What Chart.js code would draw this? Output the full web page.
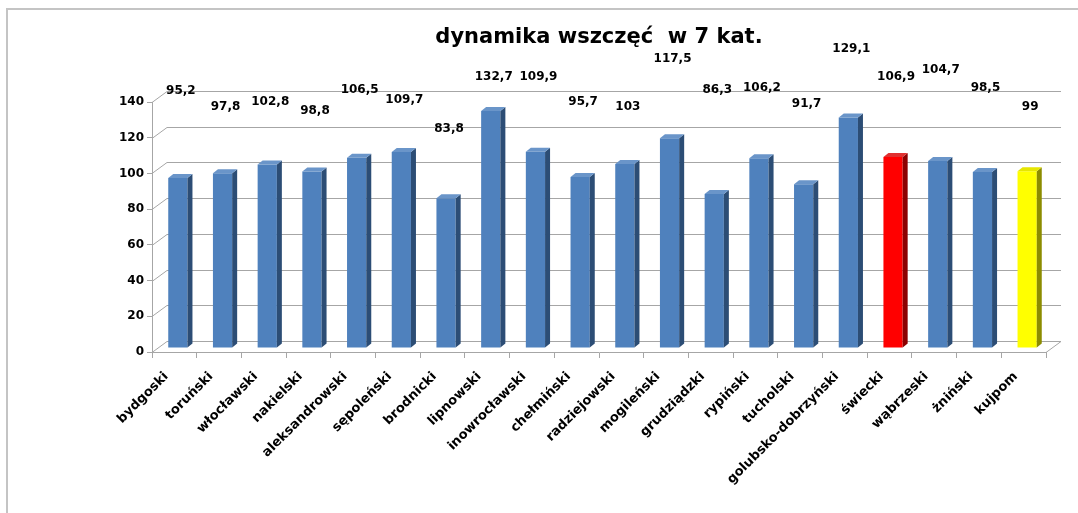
<!DOCTYPE html>
<html>
<head>
<meta charset="utf-8">
<script src="https://cdn.jsdelivr.net/npm/chart.js@4"></script>
<style>
  body { margin: 0; background: #fff; overflow: hidden; }
  #frame { position: absolute; left: 6px; top: 8px; width: 1200px; height: 700px; border: 2px solid #c4c4c4; }
  #wrap { position: absolute; left: 0; top: 0; width: 1078px; height: 513px; }
</style>
</head>
<body>
<div id="frame"></div>
<div id="wrap"><canvas id="chart"></canvas></div>
<script>
const powiaty = ['bydgoski', 'toruński', 'włocławski', 'nakielski', 'aleksandrowski', 'sępoleński', 'brodnicki',
    'lipnowski', 'inowrocławski', 'chełmiński', 'radziejowski', 'mogileński', 'grudziądzki', 'rypiński',
    'tucholski', 'golubsko-dobrzyński', 'świecki', 'wąbrzeski', 'żniński', 'kujpom'];
const dynamika = [95.2, 97.8, 102.8, 98.8, 106.5, 109.7, 83.8, 132.7, 109.9, 95.7, 103, 117.5, 86.3, 106.2,
    91.7, 129.1, 106.9, 104.7, 98.5, 99];
// wysokość etykiet danych (w jednostkach osi) - tak jak na obrazku
const etykietyPoz = [146, 137, 140, 135, 147, 141, 125, 154, 154, 140, 137, 164, 147, 148, 139, 170, 154, 158, 148, 137];
const yTicks = [0, 20, 40, 60, 80, 100, 120, 140];

const kolory = powiaty.map(p => p === 'świecki' ? 'red' : p === 'kujpom' ? 'yellow' : 'blue');
const palette = {
    blue:   { face: '#4f81bd', side: '#2c4d75', top: '#6a95c9' },
    red:    { face: '#ff0000', side: '#8c0000', top: '#e03030' },
    yellow: { face: '#ffff00', side: '#8c8c00', top: '#e6e600' }
};

const DEPTH = { x: 15, y: -11 };   // głębokość tylnej ściany
const BAR = { x: 3.5, y: -4 };     // przesunięcie słupków w głąb
const SIDE = { x: 5, y: -4 };      // grubość słupka 3D
const FONT = 'DejaVu Sans';

const wall3d = {
    id: 'wall3d',
    beforeDatasetsDraw(chart) {
        const { ctx, chartArea: a, scales: { y } } = chart;
        ctx.save();
        ctx.strokeStyle = '#a6a6a6';
        ctx.lineWidth = 1;
        ctx.beginPath();
        yTicks.forEach(v => {
            const py = Math.round(y.getPixelForValue(v)) + 0.5;
            ctx.moveTo(a.left, py);
            ctx.lineTo(a.left + DEPTH.x, py + DEPTH.y);
            ctx.lineTo(a.right + DEPTH.x, py + DEPTH.y);
        });
        // podłoga - prawa krawędź
        const b = Math.round(a.bottom) + 0.5;
        ctx.moveTo(a.right, b);
        ctx.lineTo(a.right + DEPTH.x, b + DEPTH.y);
        ctx.stroke();
        ctx.restore();

        ctx.save();
        ctx.translate(BAR.x, BAR.y);
    },
    afterDatasetsDraw(chart) {
        const { ctx, scales: { y } } = chart;
        const meta = chart.getDatasetMeta(0);
        meta.data.forEach((bar, i) => {
            const c = palette[kolory[i]];
            const half = bar.width / 2;
            const l = bar.x - half, r = bar.x + half, t = bar.y, base = bar.base;
            ctx.fillStyle = c.side;
            ctx.beginPath();
            ctx.moveTo(r, t);
            ctx.lineTo(r + SIDE.x, t + SIDE.y);
            ctx.lineTo(r + SIDE.x, base + SIDE.y);
            ctx.lineTo(r, base);
            ctx.closePath();
            ctx.fill();
            ctx.fillStyle = c.top;
            ctx.beginPath();
            ctx.moveTo(l, t);
            ctx.lineTo(l + SIDE.x, t + SIDE.y);
            ctx.lineTo(r + SIDE.x, t + SIDE.y);
            ctx.lineTo(r, t);
            ctx.closePath();
            ctx.fill();
        });
        ctx.restore();

        // etykiety danych
        ctx.save();
        ctx.fillStyle = '#000';
        ctx.font = 'bold 12px "' + FONT + '"';
        ctx.textAlign = 'center';
        ctx.textBaseline = 'middle';
        meta.data.forEach((bar, i) => {
            const txt = dynamika[i].toString().replace('.', ',');
            ctx.fillText(txt, bar.x + BAR.x + 3, y.getPixelForValue(etykietyPoz[i]));
        });
        ctx.restore();
    }
};

new Chart(document.getElementById('chart'), {
    type: 'bar',
    data: {
        labels: powiaty,
        datasets: [{
            data: dynamika,
            backgroundColor: kolory.map(k => palette[k].face),
            borderWidth: 0,
            barPercentage: 0.43,
            categoryPercentage: 1,
            clip: false
        }]
    },
    options: {
        responsive: true,
        maintainAspectRatio: false,
        animation: false,
        events: [],
        layout: { padding: { left: 112, right: 32, top: 25, bottom: 0 } },
        plugins: {
            legend: { display: false },
            tooltip: { enabled: false },
            title: {
                display: true,
                fullSize: false,
                text: 'dynamika wszczęć  w 7 kat.',
                color: '#000',
                font: { family: FONT, size: 21, weight: 'bold', lineHeight: 1.2 },
                padding: { top: 0, bottom: 51.8 }
            }
        },
        scales: {
            x: {
                grid: { drawOnChartArea: false, tickLength: 6, color: '#a6a6a6' },
                border: { color: '#a6a6a6' },
                ticks: {
                    color: '#000',
                    minRotation: 45,
                    maxRotation: 45,
                    autoSkip: false,
                    labelOffset: -8,
                    padding: 11,
                    font: { family: FONT, size: 13, weight: 'bold' }
                },
                afterFit(scale) { scale.height = 161; }
            },
            y: {
                min: 0,
                max: 140,
                grid: { drawOnChartArea: false, tickLength: 5, color: '#a6a6a6' },
                border: { color: '#a6a6a6' },
                ticks: {
                    stepSize: 20,
                    color: '#000',
                    padding: 3,
                    font: { family: FONT, size: 12, weight: 'bold' }
                },
                afterFit(scale) { scale.width = 40; }
            }
        }
    },
    plugins: [wall3d]
});
</script>
</body>
</html>
